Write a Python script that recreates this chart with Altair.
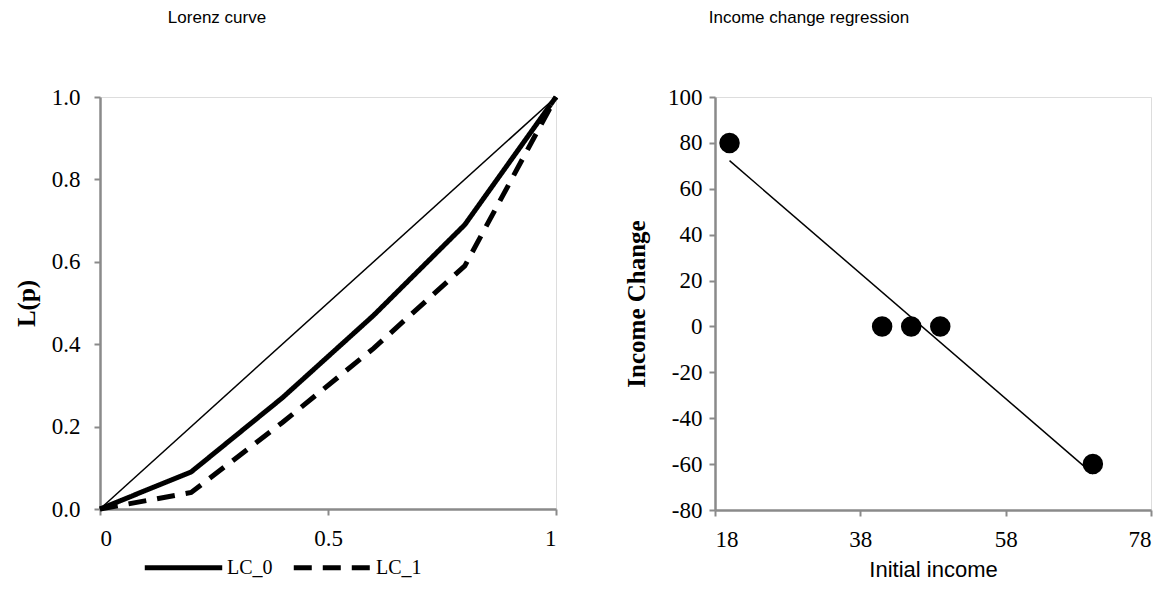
import altair as alt
import pandas as pd

# ---- data ----
p_vals = [0, 0.2, 0.4, 0.6, 0.8, 1.0]
lc0 = [0, 0.09, 0.27, 0.47, 0.69, 1.0]
lc1 = [0, 0.04, 0.21, 0.39, 0.59, 1.0]
eq_p = [0, 1]
eq_L = [0, 1]
series_names = ["LC_0", "LC_1"]

initial_income = [20, 41, 45, 49, 70]
income_change = [80, 0, 0, 0, -60]

x_ticks_left = [0, 0.5, 1]
y_ticks_left = [0, 0.2, 0.4, 0.6, 0.8, 1.0]
x_ticks_right = [18, 38, 58, 78]
y_ticks_right = [-80, -60, -40, -20, 0, 20, 40, 60, 80, 100]

lorenz_df = pd.DataFrame({
    "p": p_vals * 2,
    "L": lc0 + lc1,
    "series": [series_names[0]] * len(p_vals) + [series_names[1]] * len(p_vals),
})
eq_df = pd.DataFrame({"p": eq_p, "L": eq_L})
reg_df = pd.DataFrame({"income": initial_income, "change": income_change})

SERIF = "Liberation Serif"
SANS = "Liberation Sans"
GRAY = "#8a8a8a"
LABEL_SIZE = 23

def base_axis(**kw):
    d = dict(domainColor=GRAY, domainWidth=2.5, tickColor=GRAY, tickWidth=2,
             tickSize=6, labelFont=SERIF, labelFontSize=LABEL_SIZE,
             labelColor="black", grid=False)
    d.update(kw)
    return alt.Axis(**d)

# ---- left: Lorenz curve ----
xl = alt.X("p:Q", scale=alt.Scale(domain=[0, 1], nice=False, zero=False),
           axis=base_axis(values=x_ticks_left, format="~g", title=None, labelPadding=12))
yl = alt.Y("L:Q", scale=alt.Scale(domain=[0, 1], nice=False, zero=False),
           axis=base_axis(values=y_ticks_left, format=".1f", title="L(p)",
                          titleFont=SERIF, titleFontSize=25, titleFontWeight="bold",
                          titleColor="black", labelPadding=14, titlePadding=12))

eq_line = alt.Chart(eq_df).mark_line(color="black", strokeWidth=1.5).encode(x=xl, y=yl)

lorenz_lines = alt.Chart(lorenz_df).mark_line(color="black", strokeWidth=5).encode(
    x=xl, y=yl,
    strokeDash=alt.StrokeDash(
        "series:N",
        scale=alt.Scale(domain=series_names, range=[[1, 0], [18, 11]]),
        legend=alt.Legend(title=None, orient="none", legendX=42, legendY=429,
                          direction="horizontal", symbolType="stroke",
                          symbolSize=6000, symbolStrokeWidth=5,
                          symbolStrokeColor="black", labelFont=SERIF,
                          labelFontSize=20, labelColor="black",
                          labelOffset=2, columnPadding=10),
    ),
)

left = alt.layer(eq_line, lorenz_lines).properties(
    width=456, height=412,
    title=alt.TitleParams("Lorenz curve", font=SANS, fontSize=17, fontWeight="normal",
                          color="black", frame="group", anchor="middle", dx=-111, offset=59),
)

# ---- right: regression ----
xr = alt.X("income:Q", scale=alt.Scale(domain=[18, 78], nice=False, zero=False),
           axis=base_axis(values=x_ticks_right, format="d", title="Initial income",
                          titleFont=SANS, titleFontSize=22, titleFontWeight="normal",
                          titleColor="black", labelPadding=12, titlePadding=8))
yr = alt.Y("change:Q", scale=alt.Scale(domain=[-80, 100], nice=False, zero=False),
           axis=base_axis(values=y_ticks_right, labelExpr="'' + datum.value",
                          title="Income Change",
                          titleFont=SERIF, titleFontSize=25, titleFontWeight="bold",
                          titleColor="black", labelPadding=7, titlePadding=18))

pts = alt.Chart(reg_df).mark_circle(color="black", opacity=1, size=420).encode(x=xr, y=yr)
trend = alt.Chart(reg_df).transform_regression("income", "change").mark_line(
    color="black", strokeWidth=1.5).encode(x=xr, y=yr)

right = alt.layer(trend, pts).properties(
    width=436, height=413,
    title=alt.TitleParams("Income change regression", font=SANS, fontSize=17,
                          fontWeight="normal", color="black", frame="group",
                          anchor="middle", dx=-124, offset=59),
)

chart = alt.hconcat(left, right, spacing=57).properties(
    padding={"left": 13, "top": 8, "right": 5, "bottom": 5}
).configure_view(stroke="black", strokeWidth=2).configure(background="white")

chart.save("out.html", embed_options={"renderer": "svg", "actions": False})
